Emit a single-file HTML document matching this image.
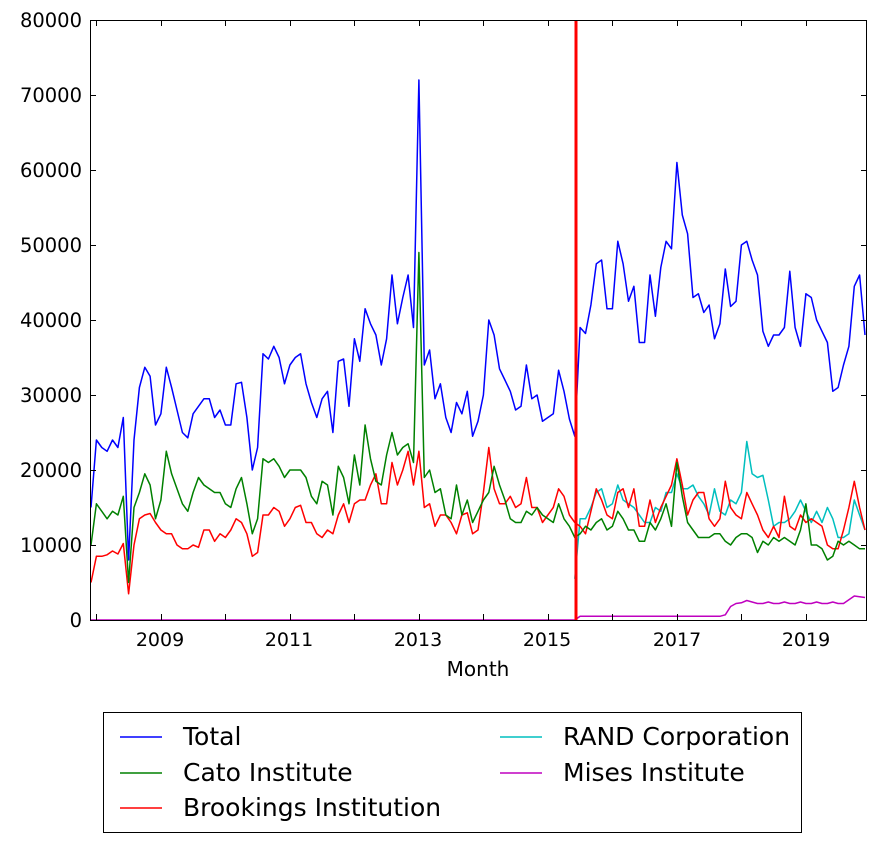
<!DOCTYPE html>
<html><head><meta charset="utf-8">
<style>
html,body{margin:0;padding:0;background:#fff;}
svg{display:block;font-family:"DejaVu Sans","Liberation Sans",sans-serif;}
</style></head>
<body>
<svg id="s" width="888" height="842" viewBox="0 0 888 842" xmlns="http://www.w3.org/2000/svg">
<rect width="888" height="842" fill="#fff"/>
<g id="plot"></g>
<rect x="90.5" y="20.5" width="776" height="600" fill="none" stroke="#000" stroke-width="1"/>
<g id="ticks" stroke="#000" stroke-width="1"></g>
<g font-size="19.5" fill="#000" text-anchor="end">
<text x="82" y="627">0</text>
<text x="82" y="552">10000</text>
<text x="82" y="477">20000</text>
<text x="82" y="402">30000</text>
<text x="82" y="327">40000</text>
<text x="82" y="252">50000</text>
<text x="82" y="177">60000</text>
<text x="82" y="102">70000</text>
<text x="82" y="27">80000</text>
</g>
<g font-size="19" fill="#000" text-anchor="middle">
<text x="160" y="646">2009</text>
<text x="289" y="646">2011</text>
<text x="418" y="646">2013</text>
<text x="547" y="646">2015</text>
<text x="677" y="646">2017</text>
<text x="806" y="646">2019</text>
<text x="478" y="676" font-size="20">Month</text>
</g>
<rect x="103.5" y="712.5" width="698" height="120" fill="#fff" stroke="#000" stroke-width="1"/>
<g stroke-width="1.5">
<line x1="120" y1="737" x2="162" y2="737" stroke="#0000ff"/>
<line x1="120" y1="773" x2="162" y2="773" stroke="#008000"/>
<line x1="120" y1="808" x2="162" y2="808" stroke="#ff0000"/>
<line x1="500" y1="737" x2="542" y2="737" stroke="#00bfbf"/>
<line x1="500" y1="773" x2="542" y2="773" stroke="#bf00bf"/>
</g>
<g font-size="25" fill="#000">
<text x="183" y="745">Total</text>
<text x="183" y="781">Cato Institute</text>
<text x="183" y="816">Brookings Institution</text>
<text x="563" y="745">RAND Corporation</text>
<text x="563" y="781">Mises Institute</text>
</g>
</svg>
<script>
var total=[15,24,23,22.5,24,23,27,8,24,31,33.7,32.5,26,27.5,33.7,31,28,25,24.3,27.5,28.5,29.5,29.5,27,28,26,26,31.5,31.7,27,20,23,35.5,34.8,36.5,35,31.5,34,35,35.5,31.5,29,27,29.5,30.5,25,34.5,34.8,28.5,37.5,34.5,41.5,39.5,38,34,37.5,46,39.5,43,46,39,72,34,36,29.5,31.5,27,25,29,27.5,30.5,24.5,26.5,30,40,38,33.5,32,30.5,28,28.5,34,29.5,30,26.5,27,27.5,33.3,30.5,26.8,24.5,
39,38.2,42,47.5,48,41.5,41.5,50.5,47.5,42.5,44.5,37,37,46,40.5,47,50.5,49.5,61,54,51.5,43,43.5,41,42,37.5,39.5,46.8,41.8,42.5,50,50.5,48,46,38.5,36.5,38,38,39,46.5,39,36.5,43.5,43,40,38.5,37,30.5,31,34,36.5,44.5,46,38];
var cato=[10,15.5,14.5,13.5,14.5,14,16.5,5,15,17,19.5,18,13.5,16,22.5,19.5,17.5,15.5,14.5,17,19,18,17.5,17,17,15.5,15,17.5,19,15.5,11.5,13.5,21.5,21,21.5,20.5,19,20,20,20,19,16.5,15.5,18.5,18,14,20.5,19,15.5,22,18,26,21.5,18.5,18,22,25,22,23,23.5,21,49,19,20,17,17.5,14,13.5,18,14,16,13,14.5,16,17,20.5,18,16,13.5,13,13,14.5,14,15,14,13.5,13,15.5,13.5,12.5,11,
11.5,12.5,12,13,13.5,12,12.5,14.5,13.5,12,12,10.5,10.5,13,12,13.5,15.5,12.5,21,16.5,13,12,11,11,11,11.5,11.5,10.5,10,11,11.5,11.5,11,9,10.5,10,11,10.5,11,10.5,10,12,15.5,10,10,9.5,8,8.5,10.5,10,10.5,10,9.5,9.5];
var brook=[5,8.5,8.5,8.7,9.2,8.8,10.2,3.5,10,13.5,14,14.2,13,12,11.5,11.5,10,9.5,9.5,10,9.7,12,12,10.5,11.5,11,12,13.5,13,11.5,8.5,9,14,14,15,14.5,12.5,13.5,15,15.3,13,13,11.5,11,12,11.5,14,15.5,13,15.5,16,16,18,19.5,15.5,15.5,21,18,20,22.5,18,22.5,15,15.5,12.5,14,14,13,11.5,14,14.3,11.5,12,17,23,17.5,15.5,15.5,16.5,15,15.5,19,15,15,13,14,15,17.5,16.5,14,13,
12.5,11.5,14.5,17.5,16,14,13.5,17,17.5,15,17.5,12.5,12.5,16,13,15,16.5,18,21.5,18,14,16,17,17,13.5,12.5,13.5,18.5,15,14,13.5,17,15.5,14,12,11,12.5,11,16.5,12.5,12,14,13,13.5,13,12.5,10,9.5,9.5,12,15,18.5,15,12];
var rand={90:5.5,91:13.5,92:13.5,93:15,94:17,95:17.5,96:15,97:15.5,98:18,99:16,100:15.5,101:15,102:14,103:13,104:13,105:15,106:14.5,107:17,108:17,109:19.5,110:17.5,111:17.5,112:18,113:16.5,114:15.5,115:14,116:17.5,117:14.5,118:14,119:16,120:15.5,121:17,122:23.8,123:19.5,124:19,125:19.3,126:16,127:12.5,128:13,129:13,130:13.5,131:14.5,132:16,133:14.5,134:13,135:14.5,136:13,137:15,138:13.5,139:11,140:11,141:11.5,142:16,143:14,144:12};
function X(i){return 91+i*5.375;}
function Y(v){return 620-v*7.5;}
function pl(arr,col,start){var p=[];for(var i=0;i<arr.length;i++)p.push(X(i+start).toFixed(1)+","+Y(arr[i]).toFixed(1));return '<polyline fill="none" stroke="'+col+'" stroke-width="1.5" stroke-linejoin="round" points="'+p.join(" ")+'"/>';}
var r=[];for(var i=90;i<=144;i++)r.push(rand[i]);
var m=[];for(var i=0;i<=144;i++){var v=0;if(i>90)v=0.5;if(i==118)v=0.7;if(i==119)v=1.8;if(i==120)v=2.2;if(i==121)v=2.3;if(i==122)v=2.6;if(i>=123&&i<=140)v=2.2+((i%3)==0?0.2:0);if(i==141)v=2.7;if(i==142)v=3.2;if(i==143)v=3.1;if(i==144)v=3.0;m.push(v);}
var h='';
h+=pl(m,'#bf00bf',0);
h+=pl(r,'#00bfbf',90);
h+=pl(brook,'#ff0000',0);
h+=pl(cato,'#008000',0);
h+=pl(total,'#0000ff',0);
h+='<line x1="576" y1="20" x2="576" y2="620" stroke="#ff0000" stroke-width="3"/>';
document.getElementById('plot').innerHTML=h;
var t='';
for(var k=0;k<=8;k++){var y=620-k*75+0.5;t+='<line x1="90" y1="'+y+'" x2="96" y2="'+y+'"/><line x1="861" y1="'+y+'" x2="867" y2="'+y+'"/>';}
for(var yr=2008;yr<=2019;yr++){var x=Math.round(X(1+(yr-2008)*12))+0.5;t+='<line x1="'+x+'" y1="614" x2="'+x+'" y2="620"/><line x1="'+x+'" y1="20" x2="'+x+'" y2="26"/>';}
document.getElementById('ticks').innerHTML=t;
</script>
</body></html>
